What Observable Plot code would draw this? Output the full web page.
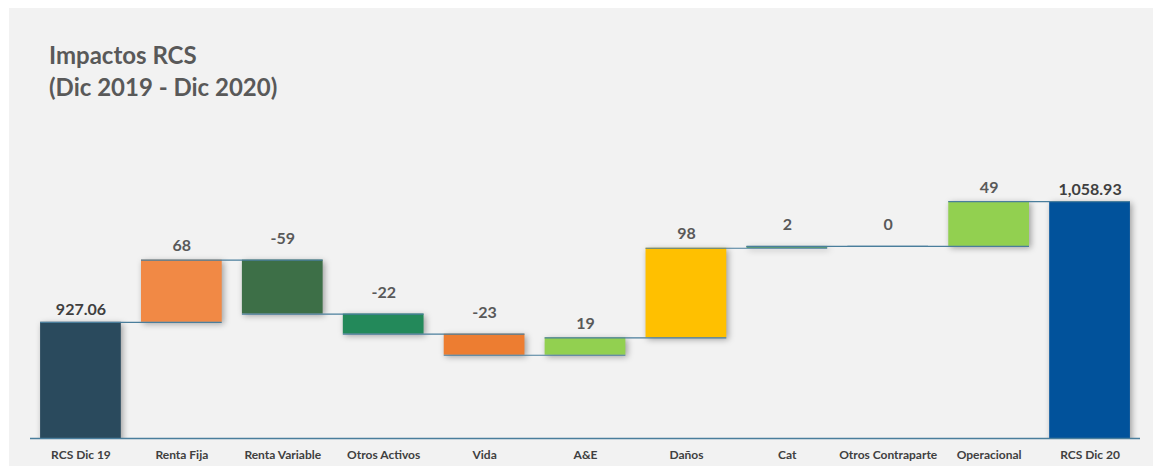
<!DOCTYPE html>
<html><head><meta charset="utf-8">
<script src="https://cdn.jsdelivr.net/npm/d3@7"></script>
<script src="https://cdn.jsdelivr.net/npm/@observablehq/plot@0.6"></script>
<style>
html,body{margin:0;padding:0;background:#fff;}
#panel{position:absolute;left:9px;top:8px;width:1144px;height:458px;background:#f2f2f2;overflow:hidden;font-family:Lato,sans-serif;}
#title{box-sizing:border-box;height:102px;padding:31px 0 0 40px;font-size:24px;font-weight:700;line-height:32px;color:#595959;}
#chart svg{display:block;}
</style></head><body>
<div id="panel"><div id="title">Impactos RCS<br>(Dic 2019 - Dic 2020)</div><div id="chart"></div></div>
<script>
const categories = ["RCS Dic 19", "Renta Fija", "Renta Variable", "Otros Activos", "Vida", "A&E", "Daños", "Cat", "Otros Contraparte", "Operacional", "RCS Dic 20"];
const startTotal = 927.06;
const changes = [68, -59, -22, -23, 19, 98, 2, 0, 49];
const endTotal = 1058.93;
const barColors = ["#2a4a5d", "#f18945", "#3d6f47", "#23895a", "#ed7d31", "#92d050", "#ffc000", "#3a8f4c", "#2a5f80", "#92d050", "#01529b"];
const lineColor = "#4a7e9c";

const fmtTotal = d3.format(",.2f");
const rows = [];
let run = startTotal;
rows.push({cat: categories[0], y1: 0, y2: startTotal, top: startTotal, end: startTotal, label: fmtTotal(startTotal), kind: "total"});
changes.forEach((c, i) => {
  const y1 = run; run += c;
  rows.push({cat: categories[i + 1], y1, y2: run, top: Math.max(y1, run), end: run, label: String(c), kind: c > 5 ? "up" : "down"});
});
rows.push({cat: categories[categories.length - 1], y1: 0, y2: endTotal, top: endTotal, end: endTotal, label: fmtTotal(endTotal), kind: "total"});

const connectors = rows.slice(0, -1).map((r, i) => ({x1: r.cat, x2: rows[i + 1].cat, y: r.end}));

const chart = Plot.plot({
  width: 1144, height: 356,
  marginLeft: 21, marginRight: 13, marginTop: 8, marginBottom: 28,
  style: {background: "transparent", fontFamily: "Lato, sans-serif"},
  x: {domain: categories, paddingInner: 0.2, paddingOuter: 0.1, round: false, label: null},
  y: {domain: [800, 1150], axis: null},
  color: {domain: categories, range: barColors},
  marks: [
    Plot.barY(rows, {x: "cat", y1: "y1", y2: "y2", fill: "cat", clip: true}),
    Plot.ruleY(connectors, {x1: "x1", x2: "x2", y: "y", stroke: lineColor, strokeWidth: 1.2}),
    Plot.ruleY([800], {stroke: lineColor, strokeWidth: 1.5}),
    Plot.axisX({tickSize: 0, tickPadding: 12, fontSize: 12, fontWeight: 700, color: "#404040", label: null}),
    Plot.text(rows, {filter: d => d.kind === "total", x: "cat", y: "top", text: "label", lineAnchor: "bottom", dy: -7, fontSize: 16, fontWeight: 700, fill: "#3f3f3f"}),
    Plot.text(rows, {filter: d => d.kind === "up", x: "cat", y: "top", text: "label", lineAnchor: "bottom", dy: -9, fontSize: 16, fontWeight: 700, fill: "#595959"}),
    Plot.text(rows, {filter: d => d.kind === "down", x: "cat", y: "top", text: "label", lineAnchor: "bottom", dy: -16, fontSize: 16, fontWeight: 700, fill: "#595959"})
  ]
});
d3.select(chart).selectAll('g[aria-label="bar"]').style("filter", "drop-shadow(2px 2px 3px rgba(0,0,0,0.35))");
document.getElementById("chart").appendChild(chart);
</script>
</body></html>
